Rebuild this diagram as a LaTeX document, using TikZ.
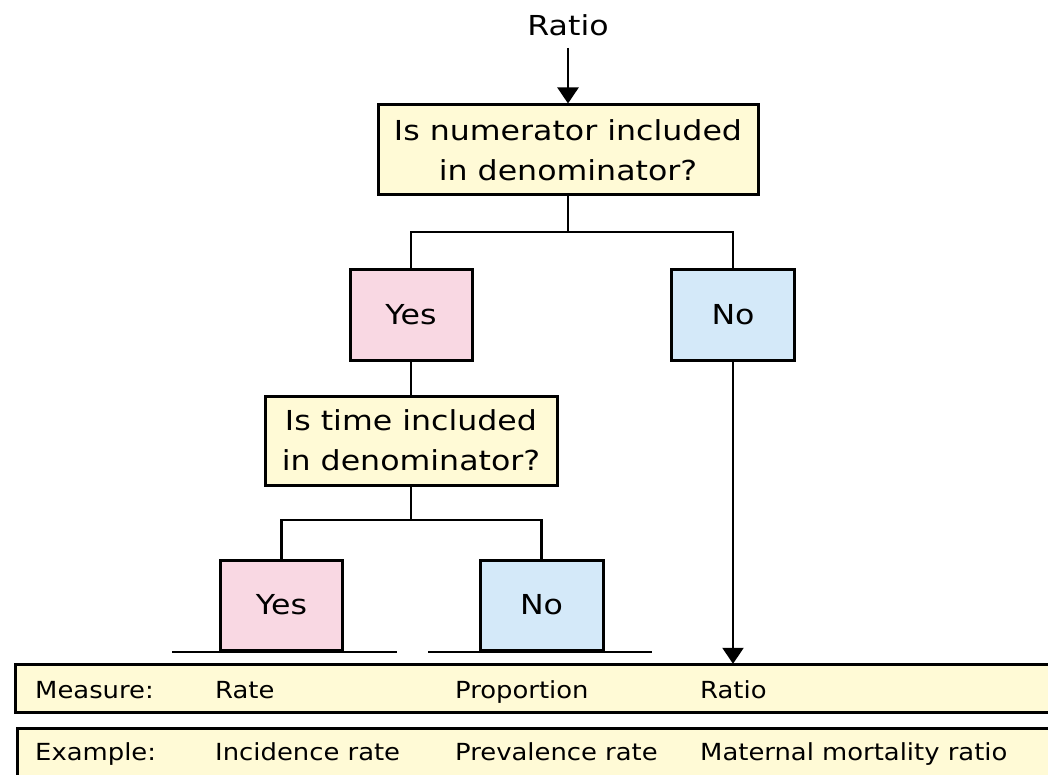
\documentclass[tikz,border=0pt]{standalone}
\usepackage{fontspec}
\setmainfont[FakeStretch=1.15]{DejaVu Sans}
\newfontfamily\bandfont[FakeStretch=1.1]{DejaVu Sans}
\usetikzlibrary{arrows.meta}
\definecolor{qyellow}{HTML}{FFFAD6}
\definecolor{ypink}{HTML}{F9D8E3}
\definecolor{nblue}{HTML}{D4E9F9}
\tikzset{
  boxtext/.style={font=\fontsize{27.5}{40}\selectfont, align=center},
  question/.style={draw=black, line width=3pt, fill=qyellow, boxtext, inner sep=0pt},
  yesbox/.style={draw=black, line width=3pt, fill=ypink, boxtext, inner sep=0pt,
                 minimum width=122pt, minimum height=90pt},
  nobox/.style={draw=black, line width=3pt, fill=nblue, boxtext, inner sep=0pt,
                minimum width=123pt, minimum height=90pt},
  band/.style={draw=black, line width=3pt, fill=qyellow},
  bandtext/.style={font=\bandfont\fontsize{23.5}{26}\selectfont, anchor=base west, inner sep=0pt},
  link/.style={line width=2.2pt},
  arrowlink/.style={line width=2.2pt, -{Triangle[width=21pt,length=16pt]}},
}
\begin{document}
\begin{tikzpicture}[x=1pt, y=-1pt]
  \useasboundingbox (0,0) rectangle (1048,775);

  % title and first question
  \node[boxtext, inner sep=0pt] (ratio) at (568,25) {Ratio};
  \node[question, minimum width=380pt, minimum height=90pt] (q1) at (568,150)
    {Is numerator included\\in denominator?};

  % first answers
  \node[yesbox] (yes1) at (411,315) {Yes};
  \node[nobox]  (no1)  at (733,315) {No};

  % second question
  \node[question, minimum width=292pt, minimum height=89pt] (q2) at (411,440.5)
    {Is time included\\in denominator?};

  % second answers
  \node[yesbox] (yes2) at (281.5,605) {Yes};
  \node[nobox]  (no2)  at (541.5,605) {No};

  % result bands
  \path[band] (15,664) rectangle (1070,712);
  \node[inner sep=0pt, minimum width=1055pt, minimum height=48pt] (measure) at (542.5,688) {};
  \path[band] (17,728) rectangle (1070,800);
  \node[inner sep=0pt, minimum width=1053pt, minimum height=72pt] (example) at (543.5,764) {};

  \node[bandtext] (mlab) at (35,698) {Measure:};
  \node[bandtext] (mrate) at (215,698) {Rate};
  \node[bandtext] (mprop) at (455,698) {Proportion};
  \node[bandtext] (mratio) at (700,698) {Ratio};
  \node[bandtext] (elab) at (35,760) {Example:};
  \node[bandtext] (einc) at (215,760) {Incidence rate};
  \node[bandtext] (eprev) at (455,760) {Prevalence rate};
  \node[bandtext] (emat) at (700,760) {Maternal mortality ratio};

  % connectors
  \draw[arrowlink] (ratio.south) ++(0,12) -- (q1.north);
  \coordinate (j1) at (568,232);
  \draw[link] (q1.south) -- (j1);
  \draw[link] (yes1.north) |- (j1) -| (no1.north);
  \draw[link] (yes1.south) -- (q2.north);
  \coordinate (j2) at (411,520);
  \draw[link] (q2.south) -- (j2);
  \draw[link] (yes2.north) |- (j2) -| (no2.north);
  \draw[arrowlink] (no1.south) -- (no1.south |- measure.north);

  % rules under the second answers
  \coordinate (u1a) at (172,652);
  \coordinate (u1b) at (397,652);
  \coordinate (u2a) at (428,652);
  \coordinate (u2b) at (652,652);
  \draw[link] (u1a) -- (u1b);
  \draw[link] (u2a) -- (u2b);
\end{tikzpicture}
\end{document}
